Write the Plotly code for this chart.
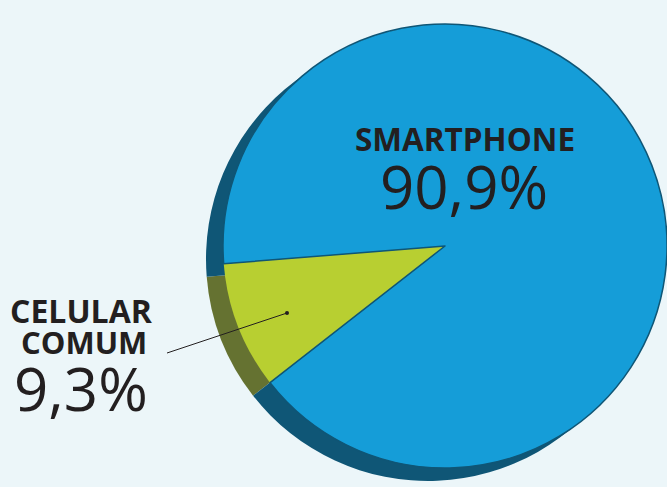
import plotly.graph_objects as go

# ---- data ----
labels = ["CELULAR COMUM", "SMARTPHONE"]
values = [9.3, 90.9]
value_text = ["9,3%", "90,9%"]

top_colors = ["#b8cf31", "#159dd8"]
side_colors = ["#657231", "#0f5676"]
bg = "#ecf6f9"
ink = "#231f20"

W, H = 667, 487

def px_x(x):
    return x / W

def px_y(y):
    return 1 - y / H

# pie geometry (pixels)
cx, cy, R = 445, 246, 222
dx_side, dy_side = -17, 13

def dom(cx_, cy_):
    return dict(x=[max(0, px_x(cx_ - R)), min(1, px_x(cx_ + R))],
                y=[px_y(cy_ + R), px_y(cy_ - R)])

common = dict(labels=labels, values=values, sort=False, direction="clockwise",
              rotation=232, textinfo="none", hoverinfo="label+percent",
              showlegend=False)

fig = go.Figure()
fig.add_trace(go.Pie(domain=dom(cx + dx_side, cy + dy_side),
                     marker=dict(colors=side_colors, line=dict(width=0)),
                     **common))
fig.add_trace(go.Pie(domain=dom(cx, cy),
                     marker=dict(colors=top_colors,
                                 line=dict(color=[side_colors[0], side_colors[1]],
                                           width=[0, 1.5])),
                     **common))

font_b = "Open Sans"
ann = [
    dict(text="<b>SMARTPHONE</b>", x=px_x(465), y=px_y(138), size=31.5),
    dict(text=value_text[1], x=px_x(464), y=px_y(186), size=60),
    dict(text="<b>CELULAR</b>", x=px_x(81), y=px_y(310), size=32),
    dict(text="<b>COMUM</b>", x=px_x(84), y=px_y(342), size=31),
    dict(text=value_text[0], x=px_x(81), y=px_y(388), size=60),
]
for a in ann:
    fig.add_annotation(text=a["text"], x=a["x"], y=a["y"], xref="paper", yref="paper",
                       xanchor="center", yanchor="middle", showarrow=False,
                       font=dict(family=font_b, size=a["size"], color=ink))

# leader line with dot
fig.add_shape(type="line", xref="paper", yref="paper",
              x0=px_x(167), y0=px_y(353), x1=px_x(287), y1=px_y(313),
              line=dict(color=ink, width=1))
fig.add_shape(type="circle", xref="paper", yref="paper",
              x0=px_x(285), y0=px_y(311), x1=px_x(289), y1=px_y(315),
              fillcolor=ink, line=dict(width=0))

fig.update_layout(width=W, height=H, margin=dict(l=0, r=0, t=0, b=0),
                  paper_bgcolor=bg, plot_bgcolor=bg)

fig.write_html("out.html")
